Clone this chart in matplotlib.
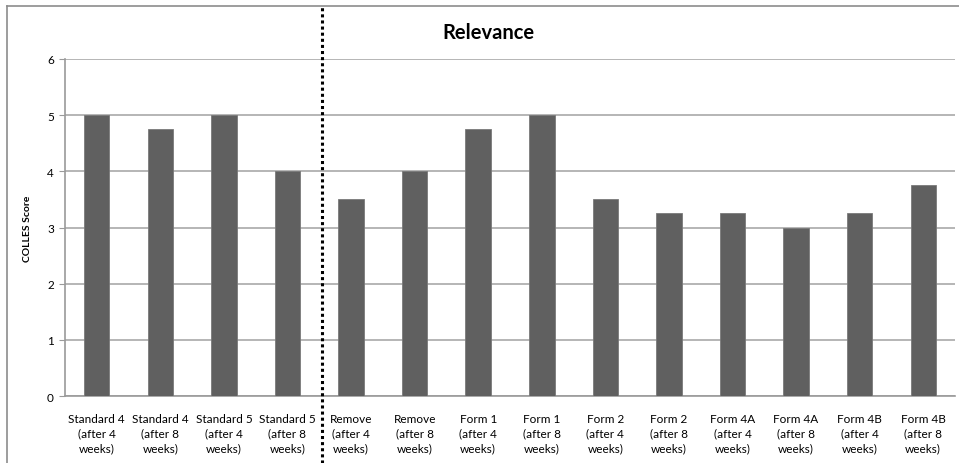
import matplotlib
matplotlib.use("Agg")
import matplotlib.pyplot as plt
import matplotlib.transforms as mtransforms
from matplotlib.lines import Line2D

# data
CATEGORIES = ["Standard 4\n(after 4\nweeks)", "Standard 4\n(after 8\nweeks)",
              "Standard 5\n(after 4\nweeks)", "Standard 5\n(after 8\nweeks)",
              "Remove\n(after 4\nweeks)", "Remove\n(after 8\nweeks)",
              "Form 1\n(after 4\nweeks)", "Form 1\n(after 8\nweeks)",
              "Form 2\n(after 4\nweeks)", "Form 2\n(after 8\nweeks)",
              "Form 4A\n(after 4\nweeks)", "Form 4A\n(after 8\nweeks)",
              "Form 4B\n(after 4\nweeks)", "Form 4B\n(after 8\nweeks)"]
SCORES = [5, 4.75, 5, 4, 3.5, 4, 4.75, 5, 3.5, 3.25, 3.25, 3, 3.25, 3.75]
Y_TICKS = [0, 1, 2, 3, 4, 5, 6]
SPLIT_AFTER = 4  # dotted separator after the standard items

W, H = 959, 464
plt.rcParams["font.family"] = ["Lato", "DejaVu Sans"]
fig = plt.figure(figsize=(W / 100, H / 100), dpi=100)
ax = fig.add_axes([65 / W, 1 - 397 / H, 890 / W, 337 / H])

x = list(range(len(CATEGORIES)))
ax.bar(x, SCORES, width=0.4, color="#606060", edgecolor="#7a7a7a", lw=0.6, zorder=3)
ax.set_xlim(-0.5, len(CATEGORIES) - 0.5)
ax.set_ylim(0, 6)
ax.set_yticks(Y_TICKS)
ax.set_xticks(x)
ax.set_xticklabels(CATEGORIES, fontsize=8.5, linespacing=1.45)
ax.tick_params(axis="x", length=0, pad=12)
ax.tick_params(axis="y", length=4, color="#9a9a9a", labelsize=8.5, pad=4)
ax.grid(axis="y", color="#b0b0b0", lw=1.3, zorder=0)
for sp in ["top", "right"]:
    ax.spines[sp].set_visible(False)
for sp in ["left", "bottom"]:
    ax.spines[sp].set_color("#9a9a9a")
    ax.spines[sp].set_linewidth(1.2)
ax.set_ylabel("COLLES Score", fontsize=7.5, fontweight="bold")
ax.yaxis.set_label_coords(-33 / 890, 0.5)

fig.text(488 / W, 1 - 33 / H, "Relevance", ha="center", va="center",
         fontsize=14.5, fontweight="bold")

# dotted separator across the whole figure
tr = mtransforms.blended_transform_factory(ax.transData, fig.transFigure)
tr = tr + mtransforms.ScaledTranslation(2.5 / 100, 0, fig.dpi_scale_trans)
fig.add_artist(Line2D([SPLIT_AFTER - 0.5] * 2, [0, 1 - 7 / H], transform=tr,
                      color="black", ls=(0, (1, 1)), lw=2.2))

# outer chart border (left and top visible)
fig.add_artist(Line2D([7 / W, 7 / W], [0, 1 - 7 / H], transform=fig.transFigure,
                      color="#8c8c8c", lw=1.2))
fig.add_artist(Line2D([7 / W, 1], [1 - 7 / H, 1 - 7 / H], transform=fig.transFigure,
                      color="#8c8c8c", lw=1.2))

fig.savefig("out.png", dpi=100, facecolor="white")
